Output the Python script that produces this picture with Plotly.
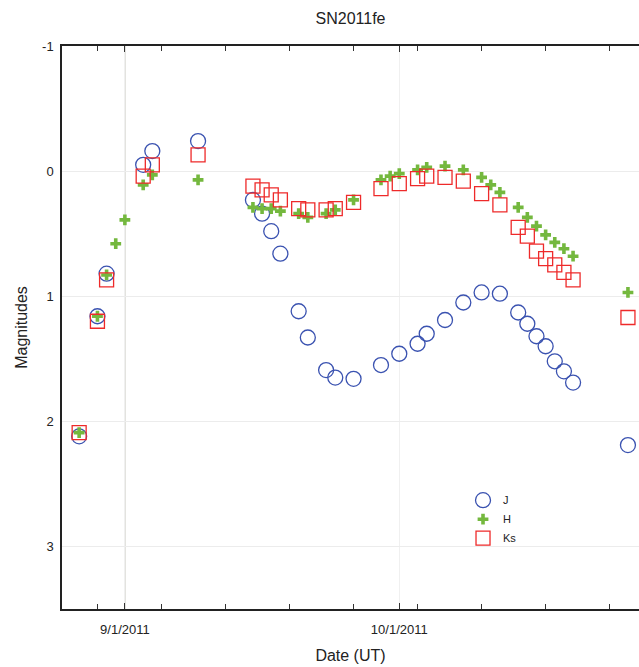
import plotly.graph_objects as go

# ---- data ----
j_dates = ["2011-08-27", "2011-08-29", "2011-08-30", "2011-09-03", "2011-09-04", "2011-09-09",
           "2011-09-15", "2011-09-16", "2011-09-17", "2011-09-18", "2011-09-20", "2011-09-21",
           "2011-09-23", "2011-09-24", "2011-09-26", "2011-09-29", "2011-10-01", "2011-10-03",
           "2011-10-04", "2011-10-06", "2011-10-08", "2011-10-10", "2011-10-12", "2011-10-14",
           "2011-10-15", "2011-10-16", "2011-10-17", "2011-10-18", "2011-10-19", "2011-10-20",
           "2011-10-26"]
j_mag = [2.12, 1.16, 0.82, -0.05, -0.16, -0.24,
         0.23, 0.34, 0.48, 0.66, 1.12, 1.33,
         1.59, 1.65, 1.66, 1.55, 1.46, 1.38,
         1.30, 1.19, 1.05, 0.97, 0.98, 1.13,
         1.22, 1.32, 1.40, 1.52, 1.60, 1.69,
         2.19]

h_dates = ["2011-08-27", "2011-08-29", "2011-08-30", "2011-08-31", "2011-09-01", "2011-09-03",
           "2011-09-04", "2011-09-09", "2011-09-15", "2011-09-16", "2011-09-17", "2011-09-18",
           "2011-09-20", "2011-09-21", "2011-09-23", "2011-09-24", "2011-09-26", "2011-09-29",
           "2011-09-30", "2011-10-01", "2011-10-03", "2011-10-04", "2011-10-06", "2011-10-08",
           "2011-10-10", "2011-10-11", "2011-10-12", "2011-10-14", "2011-10-15", "2011-10-16",
           "2011-10-17", "2011-10-18", "2011-10-19", "2011-10-20", "2011-10-26"]
h_mag = [2.09, 1.16, 0.83, 0.58, 0.39, 0.11,
         0.03, 0.07, 0.29, 0.30, 0.30, 0.32,
         0.34, 0.37, 0.34, 0.31, 0.23, 0.07,
         0.04, 0.02, -0.01, -0.03, -0.04, -0.01,
         0.05, 0.11, 0.17, 0.29, 0.37, 0.44,
         0.51, 0.57, 0.62, 0.68, 0.97]

ks_dates = ["2011-08-27", "2011-08-29", "2011-08-30", "2011-09-03", "2011-09-04", "2011-09-09",
            "2011-09-15", "2011-09-16", "2011-09-17", "2011-09-18", "2011-09-20", "2011-09-21",
            "2011-09-23", "2011-09-24", "2011-09-26", "2011-09-29", "2011-10-01", "2011-10-03",
            "2011-10-04", "2011-10-06", "2011-10-08", "2011-10-10", "2011-10-12", "2011-10-14",
            "2011-10-15", "2011-10-16", "2011-10-17", "2011-10-18", "2011-10-19", "2011-10-20",
            "2011-10-26"]
ks_mag = [2.09, 1.20, 0.87, 0.04, -0.05, -0.13,
          0.12, 0.15, 0.19, 0.23, 0.30, 0.31,
          0.31, 0.30, 0.25, 0.14, 0.10, 0.06,
          0.04, 0.05, 0.08, 0.18, 0.27, 0.45,
          0.52, 0.64, 0.70, 0.75, 0.81, 0.87,
          1.17]

x_tick_vals = ["2011-09-01", "2011-10-01"]
x_tick_text = ["9/1/2011", "10/1/2011"]
y_tick_vals = [-1, 0, 1, 2, 3]
y_tick_text = ["-1", "0", "1", "2", "3"]

FONT = "Liberation Sans, Arial, sans-serif"

fig = go.Figure()
fig.add_trace(go.Scatter(
    x=j_dates, y=j_mag, mode="markers", name="J",
    marker=dict(symbol="circle-open", size=15, color="#3a52b0", line=dict(width=1.3))))
fig.add_trace(go.Scatter(
    x=h_dates, y=h_mag, mode="markers", name="H",
    marker=dict(symbol="cross", size=9, color="#74b83e", line=dict(width=0))))
fig.add_trace(go.Scatter(
    x=ks_dates, y=ks_mag, mode="markers", name="Ks",
    marker=dict(symbol="square-open", size=14, color="#ee2a2a", line=dict(width=1.3))))

# darker reference line at the first date tick
fig.add_shape(type="line", xref="x", yref="paper", x0=x_tick_vals[0], x1=x_tick_vals[0],
              y0=0, y1=1, line=dict(color="#c4c4bc", width=1.2), layer="below")

fig.update_layout(
    width=639, height=667,
    margin=dict(l=62, r=0, t=46, b=58),
    paper_bgcolor="white", plot_bgcolor="white",
    font=dict(family=FONT, color="#222", size=13),
    title=dict(text="SN2011fe", x=(62 + 639) / 2 / 639, xanchor="center",
               y=1 - 18 / 667, yanchor="middle", font=dict(size=16, color="#222")),
    showlegend=True,
    legend=dict(x=0.695, y=0.219, xanchor="left", yanchor="top",
                bgcolor="rgba(0,0,0,0)", font=dict(size=11, color="#222"),
                itemwidth=30, tracegroupgap=2),
    xaxis=dict(
        type="date",
        range=["2011-08-25 03:00", "2011-10-27 05:00"],
        tickmode="array", tickvals=x_tick_vals, ticktext=x_tick_text,
        ticks="inside", ticklen=6, tickwidth=1.2, tickcolor="#333",
        ticklabelstandoff=8,
        showline=True, linecolor="#222", linewidth=1.5, mirror="allticks",
        showgrid=True, gridcolor="#f0f0f0", gridwidth=1,
        tickfont=dict(size=13, color="#222"),
        title=dict(text="Date (UT)", font=dict(size=16, color="#222"), standoff=13),
        minor=dict(tickmode="linear", tick0="2011-08-29", dtick=7 * 86400000,
                   ticks="inside", ticklen=5, tickwidth=1.2, tickcolor="#333", showgrid=False),
        zeroline=False,
    ),
    yaxis=dict(
        range=[3.5, -1],
        tickmode="array", tickvals=y_tick_vals, ticktext=y_tick_text,
        ticks="", showline=True, linecolor="#222", linewidth=1.5,
        ticklabelstandoff=4,
        showgrid=True, gridcolor="#ececec", gridwidth=1,
        tickfont=dict(size=13, color="#222"),
        title=dict(text="Magnitudes", font=dict(size=16, color="#222"), standoff=10),
        zeroline=False,
    ),
)

fig.write_html("out.html", config={"displayModeBar": False},
               post_script="document.body.style.margin='0';")
